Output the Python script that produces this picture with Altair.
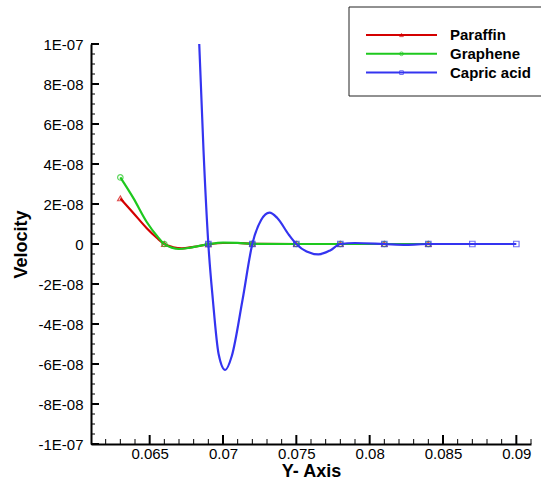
import altair as alt
import pandas as pd

# ---- series data -------------------------------------------------------
series_names = ["Paraffin", "Graphene", "Capric acid"]
series_colors = ["#d40000", "#1ec81e", "#3434f0"]
series_shapes = ["triangle-up", "circle", "square"]

paraffin_x = [0.0630, 0.0639, 0.0648, 0.0655, 0.0660, 0.0666, 0.0672, 0.0680,
              0.0690, 0.0700, 0.0710, 0.0720, 0.0750, 0.0780, 0.0810, 0.0840]
paraffin_y = [2.28e-8, 1.54e-8, 0.79e-8, 0.30e-8, 0.0, -1.6e-9, -2.2e-9, -1.4e-9,
              -0.2e-9, 0.5e-9, 0.5e-9, 0.1e-9, 0.0, 0.0, 0.0, 0.0]

graphene_x = [0.0630, 0.0639, 0.0648, 0.0655, 0.0660, 0.0665, 0.0670, 0.0678,
              0.0690, 0.0700, 0.0710, 0.0720, 0.0750, 0.0780, 0.0810, 0.0840]
graphene_y = [3.33e-8, 2.28e-8, 1.10e-8, 0.40e-8, 0.0, -1.8e-9, -2.5e-9, -1.8e-9,
              -0.1e-9, 0.7e-9, 0.6e-9, 0.1e-9, 0.0, 0.0, 0.0, 0.0]

capric_x = [0.06838, 0.06867, 0.0690, 0.06931, 0.0697, 0.07015, 0.0706, 0.07133,
            0.0720, 0.0726, 0.07317, 0.0737, 0.0745, 0.0750, 0.0757, 0.0765,
            0.0773, 0.0780, 0.0790, 0.0810, 0.0825, 0.0840, 0.0870, 0.0900]
capric_y = [1.0e-7, 4.7e-8, 0.0, -2.8e-8, -5.5e-8, -6.3e-8, -5.6e-8, -2.8e-8,
            0.0, 1.2e-8, 1.57e-8, 1.3e-8, 4.5e-9, 0.0, -3.8e-9, -5.2e-9,
            -3.2e-9, 0.0, 5e-10, 0.0, -4e-10, 0.0, 0.0, 0.0]

# ---- axis ticks --------------------------------------------------------
x_major = [0.065, 0.070, 0.075, 0.080, 0.085, 0.090]
x_minor = [0.062, 0.063, 0.064, 0.066, 0.067, 0.068, 0.069, 0.071, 0.072,
           0.073, 0.074, 0.076, 0.077, 0.078, 0.079, 0.081, 0.082, 0.083,
           0.084, 0.086, 0.087, 0.088, 0.089, 0.091]
y_major = [-1e-7, -8e-8, -6e-8, -4e-8, -2e-8, 0.0, 2e-8, 4e-8, 6e-8, 8e-8, 1e-7]
y_labels = ["-1E-07", "-8E-08", "-6E-08", "-4E-08", "-2E-08", "0",
            "2E-08", "4E-08", "6E-08", "8E-08", "1E-07"]
y_minor = [i * 5e-9 for i in range(-19, 20) if i % 4 != 0]

FONT = "Liberation Sans"
W, H = 440, 400

frames = []
for name, xs, ys in [("Paraffin", paraffin_x, paraffin_y),
                     ("Graphene", graphene_x, graphene_y),
                     ("Capric acid", capric_x, capric_y)]:
    frames.append(pd.DataFrame({"series": name, "x": xs, "y": ys}))
data = pd.concat(frames, ignore_index=True)
# symbols sit on every 0.003 step of the x grid
k = (data["x"] * 1000).round()
data["marker"] = ((data["x"] * 1000 - k).abs() < 1e-6) & (k % 3 == 0)

xscale = alt.Scale(domain=[0.061, 0.091], nice=False, zero=False)
yscale = alt.Scale(domain=[-1e-7, 1e-7], nice=False, zero=False)

label_expr = " : ".join(
    f"abs(datum.value - ({v})) < 1e-12 ? '{lab}'" for v, lab in zip(y_major, y_labels)
) + " : ''"

x_axis = alt.Axis(values=x_major, format=".3~f", ticks=False, grid=False,
                  domainColor="black", domainWidth=2, labelFont=FONT,
                  labelFontSize=15, labelColor="black", labelPadding=2,
                  title="Y- Axis", titleFont=FONT, titleFontSize=18,
                  titleFontWeight="bold", titleColor="black", titlePadding=1)
y_axis = alt.Axis(values=y_major, labelExpr=label_expr, ticks=False, grid=False,
                  domainColor="black", domainWidth=2, labelFont=FONT,
                  labelFontSize=15, labelColor="black", labelPadding=8,
                  title="Velocity", titleFont=FONT, titleFontSize=18,
                  titleFontWeight="bold", titleColor="black", titlePadding=7)


def X(field):
    return alt.X(field, scale=xscale, axis=x_axis)


def Y(field):
    return alt.Y(field, scale=yscale, axis=y_axis)


layers = []


# inward tick marks
def xticks(vals, length, width):
    return alt.Chart(pd.DataFrame({"x": vals})).mark_rule(
        color="black", strokeWidth=width
    ).encode(x=X("x:Q"), y=alt.value(H), y2=alt.value(H - length))


def yticks(vals, length, width):
    return alt.Chart(pd.DataFrame({"y": vals})).mark_rule(
        color="black", strokeWidth=width
    ).encode(y=Y("y:Q"), x=alt.value(0), x2=alt.value(length))


layers += [xticks(x_major, 9, 2), xticks(x_minor, 5, 1),
           yticks(y_major, 8, 2), yticks(y_minor, 4, 1)]

# curves and their symbols
for name, color, shape in zip(series_names, series_colors, series_shapes):
    sub = data[data["series"] == name]
    layers.append(
        alt.Chart(sub).mark_line(color=color, strokeWidth=2.2,
                                 interpolate="monotone").encode(
            x=X("x:Q"), y=Y("y:Q"))
    )
    layers.append(
        alt.Chart(sub[sub["marker"]]).mark_point(
            shape=shape, color=color, filled=False, size=30, strokeWidth=1.2
        ).encode(x=X("x:Q"), y=Y("y:Q"))
    )

# legend box
layers.append(
    alt.Chart(pd.DataFrame({"k": [0]})).mark_rect(
        fill="white", stroke="#222222", strokeWidth=1
    ).encode(x=alt.value(258), x2=alt.value(454),
             y=alt.value(-37), y2=alt.value(52))
)
for i, (name, color, shape) in enumerate(zip(series_names, series_colors, series_shapes)):
    ly = -9 + 18.8 * i
    row = pd.DataFrame({"series": [name]})
    layers.append(alt.Chart(row).mark_rule(color=color, strokeWidth=2).encode(
        x=alt.value(275), x2=alt.value(346), y=alt.value(ly)))
    layers.append(alt.Chart(row).mark_point(
        shape=shape, color=color, filled=False, size=14, strokeWidth=1).encode(
        x=alt.value(310.5), y=alt.value(ly)))
    layers.append(alt.Chart(row).mark_text(
        align="left", baseline="middle", font=FONT, fontSize=15,
        fontWeight="bold", color="black").encode(
        x=alt.value(359), y=alt.value(ly), text="series:N"))

chart = alt.layer(*layers).properties(
    width=W, height=H,
    background="white",
    autosize=alt.AutoSizeParams(type="none"),
    padding={"left": 91, "top": 44, "right": 10, "bottom": 42},
).configure_view(stroke="transparent", strokeWidth=0)

chart.save("out.html", embed_options={"renderer": "svg", "actions": False})
